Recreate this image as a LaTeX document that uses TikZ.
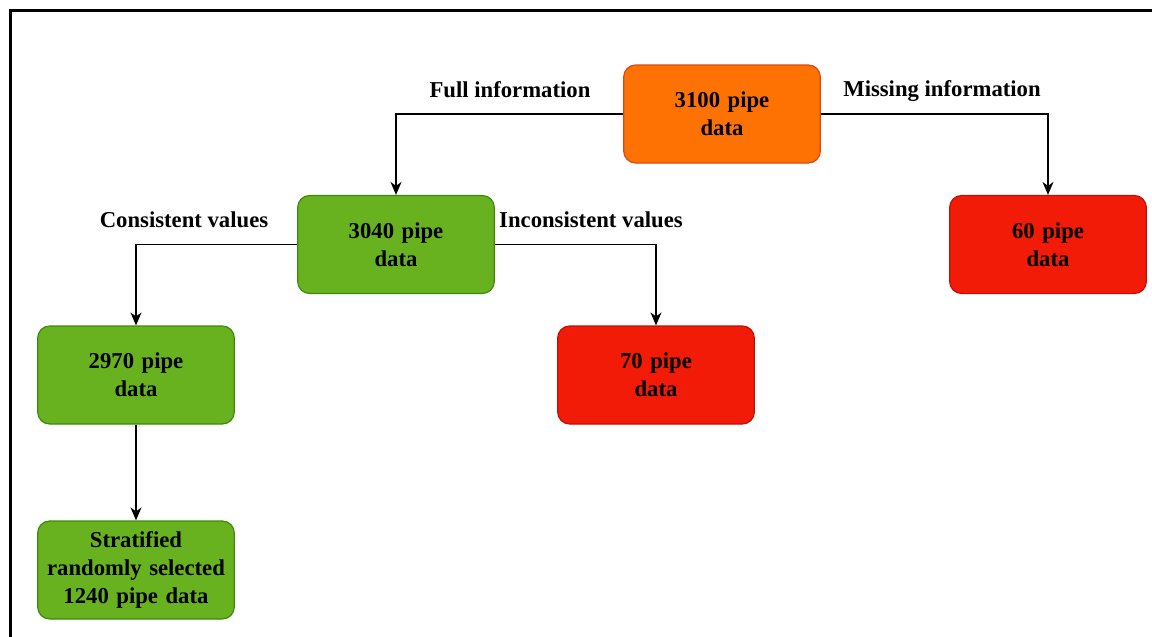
\documentclass[tikz,border=0pt]{standalone}
\usepackage{fontspec}
\setmainfont{Liberation Serif}
\usetikzlibrary{arrows.meta}
\definecolor{orangefill}{HTML}{FE7204}
\definecolor{orangeline}{HTML}{D84A10}
\definecolor{greenfill}{HTML}{67B21E}
\definecolor{greenline}{HTML}{3F8A0C}
\definecolor{redfill}{HTML}{F21B07}
\definecolor{redline}{HTML}{C01004}
\begin{document}
\begin{tikzpicture}[x=1pt,y=-1pt,
  every node/.style={font=\bfseries\fontsize{22.7}{28}\selectfont},
  box/.style={rectangle, rounded corners=12pt, minimum width=196pt,
    minimum height=98pt, text width=190pt, align=center, line width=1.2pt},
  okbox/.style={box, fill=greenfill, draw=greenline},
  badbox/.style={box, fill=redfill, draw=redline},
  rootbox/.style={box, fill=orangefill, draw=orangeline},
  link/.style={line width=1.3pt, -{Stealth[length=13pt,width=11pt,inset=4pt]}},
  lbl/.style={inner sep=0pt}]
  \useasboundingbox (0,0) rectangle (1152,637);
  % outer frame (open to the right and bottom)
  \draw[line width=3pt] (10,637) -- (10,10) -- (1152,10);

  \node[rootbox] (root) at (722,114) {3100 pipe\\data};
  \node[okbox] (full) at (396,244.5) {3040 pipe\\data};
  \node[badbox] (miss) at (1048,244.5) {60 pipe\\data};
  \node[okbox] (cons) at (136,375) {2970 pipe\\data};
  \node[badbox] (incons) at (656,375) {70 pipe\\data};
  \node[okbox] (strat) at (136,570) {Stratified\\randomly selected\\1240 pipe data};

  \draw[link] (root.west) -| (full.north);
  \draw[link] (root.east) -| (miss.north);
  \draw[link] (full.west) -| (cons.north);
  \draw[link] (full.east) -| (incons.north);
  \draw[link] (cons.south) -- (strat.north);

  \node[lbl] (lfull) at (510,90) {Full information};
  \node[lbl] (lmiss) at (942,91) {Missing information};
  \node[lbl] (lcons) at (184,220) {Consistent values};
  \node[lbl] (lincons) at (591,220) {Inconsistent values};
\end{tikzpicture}
\end{document}
